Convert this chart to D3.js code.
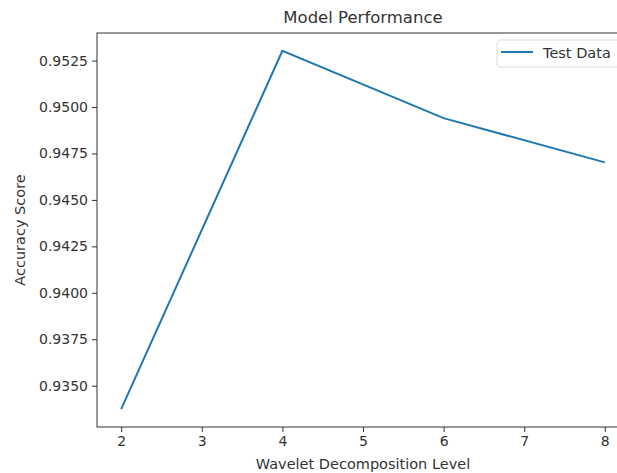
<!DOCTYPE html>
<html>
<head>
<meta charset="utf-8">
<script src="https://cdn.jsdelivr.net/npm/d3@7"></script>
<style>
  body { margin: 0; background: #fff; }
  svg text { font-family: "DejaVu Sans", sans-serif; fill: #333; }
</style>
</head>
<body>
<svg width="617" height="473"></svg>
<script>
var levels = [2, 4, 6, 8]
var scores = [0.93374, 0.95302, 0.94940, 0.94702]
var xTicks = [2, 3, 4, 5, 6, 7, 8]
var yTicks = [0.9350, 0.9375, 0.9400, 0.9425, 0.9450, 0.9475, 0.9500, 0.9525]
var seriesName = "Test Data"

var svg = d3.select("svg")
var mLeft = 97, mTop = 33, mRight = 629, mBottom = 427

// matplotlib-style 5% margins
var xPad = (d3.max(levels) - d3.min(levels)) * 0.05
var yPad = (d3.max(scores) - d3.min(scores)) * 0.05

var x = d3.scaleLinear()
    .domain([d3.min(levels) - xPad, d3.max(levels) + xPad])
    .range([mLeft, mRight])
var y = d3.scaleLinear()
    .domain([d3.min(scores) - yPad, d3.max(scores) + yPad])
    .range([mBottom, mTop])

var xAxis = svg.append("g")
    .attr("transform", "translate(0," + mBottom + ")")
    .call(d3.axisBottom(x).tickValues(xTicks).tickSize(5).tickPadding(4).tickFormat(d3.format("d")))
var yAxis = svg.append("g")
    .attr("transform", "translate(" + mLeft + ",0)")
    .call(d3.axisLeft(y).tickValues(yTicks).tickSize(5).tickPadding(4).tickFormat(d3.format(".4f")))

;[xAxis, yAxis].forEach(function(a) {
    a.select(".domain").remove()
    a.selectAll(".tick line").attr("stroke", "#333").attr("stroke-width", 1)
    a.selectAll(".tick text").style("font-size", "14px").attr("fill", "#333")
})

// frame
svg.append("rect")
    .attr("x", mLeft).attr("y", mTop)
    .attr("width", mRight - mLeft).attr("height", mBottom - mTop)
    .attr("fill", "none").attr("stroke", "#333").attr("stroke-width", 1)

var line = d3.line()
    .x(function(d, i) { return x(levels[i]) })
    .y(function(d) { return y(d) })

svg.append("path")
    .datum(scores)
    .attr("d", line)
    .attr("fill", "none")
    .attr("stroke", "#1f77b4")
    .attr("stroke-width", 2)

// legend
var lg = svg.append("g").attr("transform", "translate(497,40)")
lg.append("rect")
    .attr("width", 130).attr("height", 27).attr("rx", 3)
    .attr("fill", "#fff").attr("fill-opacity", 0.8)
    .attr("stroke", "#ddd")
lg.append("line")
    .attr("x1", 4).attr("x2", 36).attr("y1", 12).attr("y2", 12)
    .attr("stroke", "#1f77b4").attr("stroke-width", 2)
lg.append("text")
    .attr("x", 46).attr("y", 18)
    .style("font-size", "14.5px")
    .text(seriesName)

svg.append("text")
    .attr("x", (mLeft + mRight) / 2).attr("y", 23)
    .attr("text-anchor", "middle")
    .style("font-size", "16.5px")
    .text("Model Performance")

svg.append("text")
    .attr("x", (mLeft + mRight) / 2).attr("y", 469)
    .attr("text-anchor", "middle")
    .style("font-size", "14.5px")
    .text("Wavelet Decomposition Level")

svg.append("text")
    .attr("transform", "translate(25," + (mTop + mBottom) / 2 + ") rotate(-90)")
    .attr("text-anchor", "middle")
    .style("font-size", "14.5px")
    .text("Accuracy Score")
</script>
</body>
</html>
